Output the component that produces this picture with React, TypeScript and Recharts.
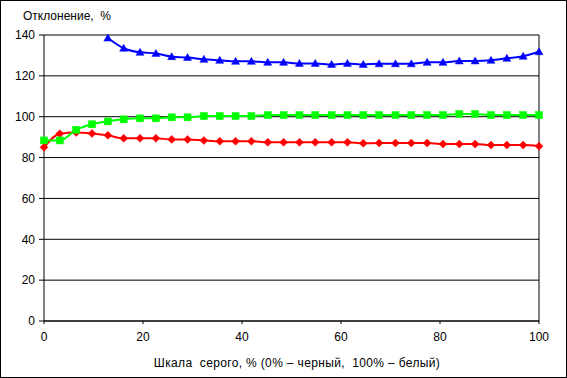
import React from 'react';
import { LineChart, Line, XAxis, YAxis, CartesianGrid, ReferenceLine } from 'recharts';

const grayLevels = [0, 3.2, 6.5, 9.7, 12.9, 16.1, 19.4, 22.6, 25.8, 29.0, 32.3, 35.5, 38.7, 41.9, 45.2, 48.4, 51.6, 54.8, 58.1, 61.3, 64.5, 67.7, 71.0, 74.2, 77.4, 80.6, 83.9, 87.1, 90.3, 93.5, 96.8, 100];
const redSeries = [85.0, 91.7, 92.3, 91.8, 90.9, 89.4, 89.4, 89.4, 88.9, 88.9, 88.4, 88.0, 88.0, 88.0, 87.5, 87.5, 87.5, 87.5, 87.5, 87.5, 87.0, 87.1, 87.1, 87.1, 87.1, 86.6, 86.6, 86.6, 86.1, 86.1, 86.1, 85.6];
const greenSeries = [88.4, 88.4, 93.6, 96.3, 97.7, 98.7, 99.2, 99.2, 99.7, 99.7, 100.3, 100.3, 100.3, 100.3, 100.8, 100.8, 100.8, 100.8, 100.8, 100.8, 100.8, 100.8, 100.8, 100.8, 100.8, 100.8, 101.3, 101.3, 100.8, 100.8, 100.8, 100.8];
const blueSeries: (number | null)[] = [null, null, null, null, 138.5, 133.5, 131.5, 131.0, 129.4, 129.0, 128.1, 127.6, 127.1, 127.1, 126.6, 126.6, 126.1, 126.1, 125.6, 126.1, 125.6, 125.9, 125.9, 125.9, 126.6, 126.6, 127.3, 127.3, 127.6, 128.6, 129.6, 131.8];
const xTicks = [0, 20, 40, 60, 80, 100];
const yTicks = [0, 20, 40, 60, 80, 100, 120, 140];
const yTitle = 'Отклонение,  %';
const xTitle = 'Шкала  серого, % (0% – черный,  100% – белый)';

const data = grayLevels.map((x, i) => ({ x, red: redSeries[i], green: greenSeries[i], blue: blueSeries[i] }));

const FONT = "Arial, 'Liberation Sans', sans-serif";

const Triangle = (props: any) => {
  const { cx, cy } = props;
  if (cx == null || cy == null || props.value == null) return null;
  return <polygon points={`${cx},${cy - 4} ${cx - 4},${cy + 3} ${cx + 4},${cy + 3}`} fill="#0000FF" stroke="#0000FF" strokeWidth={0.5} />;
};
const Diamond = (props: any) => {
  const { cx, cy } = props;
  if (cx == null || cy == null) return null;
  return <polygon points={`${cx},${cy - 4} ${cx + 4},${cy} ${cx},${cy + 4} ${cx - 4},${cy}`} fill="#FF0000" stroke="#FF0000" strokeWidth={0.5} />;
};
const Square = (props: any) => {
  const { cx, cy } = props;
  if (cx == null || cy == null) return null;
  return <rect x={cx - 3.5} y={cy - 3.5} width={7} height={7} fill="#00FF00" stroke="#00FF00" strokeWidth={0.5} />;
};

export default function App() {
  const tick = { fill: '#000', fontSize: 12, fontFamily: FONT };
  return (
    <div style={{ position: 'absolute', left: 0, top: 0, width: 567, height: 378, background: '#fff' }}>
      <LineChart width={567} height={378} data={data} margin={{ top: 35, right: 28, bottom: 27, left: 0 }}>
        <CartesianGrid horizontal vertical={false} stroke="#000" strokeWidth={1} />
        <XAxis dataKey="x" type="number" domain={[0, 100]} ticks={xTicks} tick={tick} tickSize={3} tickMargin={8}
          axisLine={{ stroke: '#000' }} tickLine={{ stroke: '#000' }} height={30} allowDecimals={false} />
        <YAxis type="number" domain={[0, 140]} ticks={yTicks} tick={tick} tickSize={5} tickMargin={4} width={44}
          axisLine={{ stroke: '#000' }} tickLine={{ stroke: '#000' }} />
        <ReferenceLine x={100} stroke="#000" />
        <Line type="monotone" dataKey="red" stroke="#FF0000" strokeWidth={2} dot={<Diamond />} isAnimationActive={false} />
        <Line type="monotone" dataKey="green" stroke="#00FF00" strokeWidth={2} dot={<Square />} isAnimationActive={false} />
        <Line type="monotone" dataKey="blue" stroke="#0000FF" strokeWidth={2} dot={<Triangle />} isAnimationActive={false} />
      </LineChart>
      <div style={{ position: 'absolute', left: 23, top: 9, fontFamily: FONT, fontSize: 12, lineHeight: '14px', whiteSpace: 'pre', color: '#000' }}>{yTitle}</div>
      <div style={{ position: 'absolute', left: 0, width: 594, textAlign: 'center', top: 356, fontFamily: FONT, fontSize: 12, letterSpacing: '0.35px', lineHeight: '14px', whiteSpace: 'pre', color: '#000' }}>{xTitle}</div>
      <div style={{ position: 'absolute', left: 0, top: 0, width: 567, height: 378, boxSizing: 'border-box', border: '1px solid #000', pointerEvents: 'none' }} />
    </div>
  );
}
